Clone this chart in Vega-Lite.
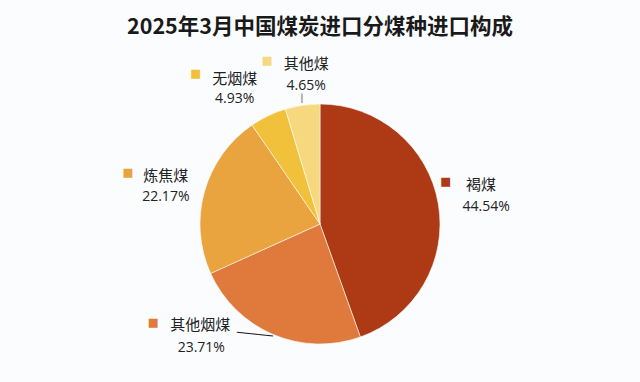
{
  "$schema": "https://vega.github.io/schema/vega-lite/v6.json",
  "width": 640,
  "height": 382,
  "autosize": {"type": "fit", "contains": "padding"},
  "padding": {"top": 28, "left": 0, "right": 0, "bottom": 0},
  "background": "#fbfcfe",
  "title": {
    "text": "2025年3月中国煤炭进口分煤种进口构成",
    "font": "Noto Sans CJK SC",
    "fontSize": 21.5,
    "fontWeight": "bold",
    "color": "#1a1a1a",
    "anchor": "middle",
    "offset": 16.5
  },
  "data": {
    "values": [
      {"name": "褐煤", "share": 0.4454},
      {"name": "其他烟煤", "share": 0.2371},
      {"name": "炼焦煤", "share": 0.2217},
      {"name": "无烟煤", "share": 0.0493},
      {"name": "其他煤", "share": 0.0465}
    ]
  },
  "encoding": {
    "theta": {"field": "share", "type": "quantitative", "stack": true},
    "order": {"field": "share", "type": "quantitative", "sort": "descending"}
  },
  "layer": [
    {
      "mark": {"type": "arc", "outerRadius": 120, "stroke": "#ffffff", "strokeWidth": 0.8, "strokeOpacity": 0.7},
      "encoding": {
        "color": {
          "field": "name",
          "type": "nominal",
          "scale": {
            "domain": ["褐煤", "其他烟煤", "炼焦煤", "无烟煤", "其他煤"],
            "range": ["#ad3a14", "#df7a3c", "#e9a33f", "#f2c13c", "#f6d97e"]
          },
          "legend": null
        }
      }
    },
    {
      "mark": {
        "type": "text",
        "text": "■",
        "font": "DejaVu Sans",
        "fontSize": 11.5,
        "align": "center",
        "baseline": "middle",
        "radius": {"expr": "datum.name==='褐煤'?165:datum.name==='炼焦煤'?158:datum.name==='其他煤'?150:datum.name==='无烟煤'?158:122"},
        "dx": {"expr": "datum.name==='褐煤'?-37:datum.name==='炼焦煤'?-40:datum.name==='其他煤'?-31:datum.name==='无烟煤'?-56:-119"},
        "dy": {"expr": "datum.name==='褐煤'?-14:datum.name==='炼焦煤'?-8.5:datum.name==='其他煤'?-14.5:datum.name==='无烟煤'?-8:-13"}
      },
      "encoding": {
        "color": {
          "field": "name",
          "type": "nominal",
          "scale": {
            "domain": ["褐煤", "其他烟煤", "炼焦煤", "无烟煤", "其他煤"],
            "range": ["#ad3a14", "#df7a3c", "#e9a33f", "#f2c13c", "#f6d97e"]
          },
          "legend": null
        }
      }
    },
    {
      "mark": {
        "type": "text",
        "font": "Noto Sans CJK SC",
        "fontSize": 15,
        "color": "#222222",
        "align": "center",
        "baseline": "middle",
        "radius": {"expr": "datum.name==='褐煤'?165:datum.name==='炼焦煤'?158:datum.name==='其他煤'?150:datum.name==='无烟煤'?158:122"},
        "dx": {"expr": "datum.name==='褐煤'?-1.5:datum.name==='炼焦煤'?-2:datum.name==='其他煤'?8:datum.name==='无烟煤'?-17:-72"},
        "dy": {"expr": "datum.name==='褐煤'?-11:datum.name==='炼焦煤'?-5.5:datum.name==='其他煤'?-11.5:datum.name==='无烟煤'?-3:-11"}
      },
      "encoding": {"text": {"field": "name", "type": "nominal"}}
    },
    {
      "mark": {
        "type": "text",
        "font": "Open Sans",
        "fontSize": 14,
        "color": "#222222",
        "align": "center",
        "baseline": "middle",
        "radius": {"expr": "datum.name==='褐煤'?165:datum.name==='炼焦煤'?158:datum.name==='其他煤'?150:datum.name==='无烟煤'?158:122"},
        "dx": {"expr": "datum.name==='褐煤'?3.5:datum.name==='炼焦煤'?-2:datum.name==='其他煤'?8:datum.name==='无烟煤'?-17:-71"},
        "dy": {"expr": "datum.name==='褐煤'?11:datum.name==='炼焦煤'?15.5:datum.name==='其他煤'?10:datum.name==='无烟煤'?17.5:11.5"}
      },
      "encoding": {"text": {"field": "share", "type": "quantitative", "format": ".2%"}}
    },
    {
      "mark": {
        "type": "text",
        "font": "DejaVu Sans",
        "color": "#222222",
        "baseline": "middle",
        "fontSize": {"expr": "datum.name==='其他煤'?8:12"},
        "align": {"expr": "datum.name==='其他煤'?'center':'right'"},
        "angle": {"expr": "datum.name==='其他煤'?0:6"},
        "radius": {"expr": "datum.name==='其他煤'?125:120"},
        "dy": {"expr": "datum.name==='其他煤'?-1:1.5"}
      },
      "encoding": {
        "text": {
          "condition": [
            {"test": "datum.name==='其他煤'", "value": "│"},
            {"test": "datum.name==='其他烟煤'", "value": "─────"}
          ],
          "value": ""
        }
      }
    }
  ],
  "config": {"view": {"stroke": null}}
}
